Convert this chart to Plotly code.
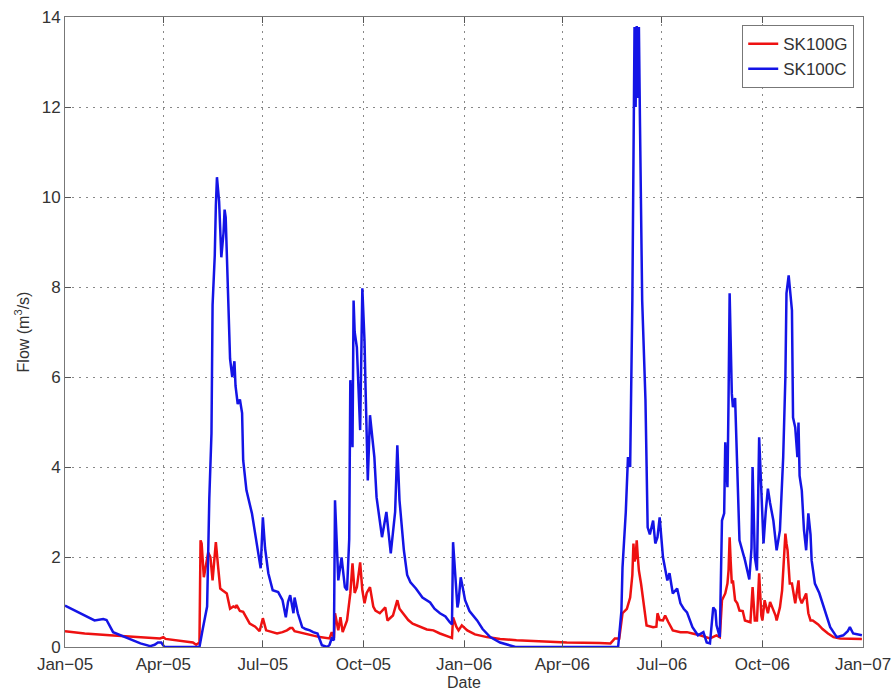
import pandas as pd
import plotly.graph_objects as go

# days since 2005-01-01
sk100c_days = [0, 14, 27, 35, 38, 44, 50, 57, 69, 78, 82, 85, 88, 91, 123, 126, 130, 132, 134, 135,
               137, 138, 139, 141, 143, 145, 146, 147, 149, 151, 153, 155, 156, 158, 160, 162, 163, 166, 171, 176,
               179, 181, 183, 186, 190, 195, 199, 202, 204, 206, 209, 210, 213, 217, 220, 224, 227, 231, 235, 240,
               242, 244, 246, 247, 249, 250, 253, 256, 258, 259, 260, 261, 263, 264, 265, 267, 268, 270, 272, 274,
               275, 276, 277, 279, 281, 283, 285, 287, 290, 294, 298, 302, 304, 306, 310, 313, 316, 321, 327, 334,
               338, 343, 348, 352, 354, 355, 357, 359, 360, 362, 364, 366, 370, 377, 382, 389, 398, 412, 506, 509,
               510, 513, 515, 517, 519, 520, 521, 522, 523, 524, 525, 526, 528, 531, 533, 535, 538, 540, 542, 544,
               547, 551, 553, 556, 560, 563, 566, 569, 574, 579, 584, 587, 590, 593, 595, 596, 599, 601, 603, 604,
               606, 607, 608, 610, 611, 613, 615, 616, 617, 622, 626, 628, 629, 631, 633, 635, 637, 639, 641, 643,
               645, 648, 651, 654, 657, 659, 660, 662, 663, 665, 666, 668, 670, 671, 672, 674, 676, 678, 680, 682,
               683, 686, 690, 693, 697, 700, 706, 712, 716, 718, 721, 725, 729]
sk100c_flow = [0.92, 0.75, 0.59, 0.62, 0.60, 0.33, 0.27, 0.20, 0.08, 0.02, 0.05, 0.10, 0.10, 0.0, 0.0, 0.40, 0.90, 3.3, 4.75, 7.6,
               8.7, 9.8, 10.44, 9.9, 8.66, 9.2, 9.72, 9.55, 8.0, 6.4, 6.0, 6.35, 5.8, 5.4, 5.5, 5.2, 4.15, 3.48, 2.97, 2.15,
               1.75, 2.88, 2.2, 1.64, 1.26, 1.22, 1.04, 0.66, 1.0, 1.15, 0.75, 1.1, 0.75, 0.44, 0.40, 0.37, 0.33, 0.30, 0.04, 0.0,
               0.05, 0.19, 0.15, 3.26, 2.0, 1.48, 1.99, 1.33, 1.26, 2.0, 2.4, 5.93, 4.44, 7.7, 7.0, 6.66, 5.93, 4.82, 7.97, 6.8,
               5.7, 4.37, 3.7, 5.15, 4.66, 4.22, 3.33, 3.0, 2.44, 3.0, 2.08, 3.0, 4.48, 3.26, 2.15, 1.6, 1.44, 1.3, 1.1, 0.99,
               0.85, 0.75, 0.68, 0.55, 0.50, 2.33, 1.6, 0.88, 1.0, 1.55, 1.3, 1.04, 0.80, 0.59, 0.40, 0.22, 0.10, 0.0, 0.0, 0.8,
               1.77, 3.0, 4.22, 4.0, 7.7, 11.5, 13.78, 12.0, 13.8, 12.2, 13.78, 11.6, 7.7, 5.5, 2.66, 2.5, 2.81, 2.3, 2.44, 2.88,
               2.0, 1.48, 1.64, 1.19, 1.3, 0.97, 0.85, 0.77, 0.44, 0.26, 0.33, 0.10, 0.08, 0.88, 0.81, 0.48, 0.22, 2.81, 2.97, 4.55,
               3.55, 5.5, 7.86, 5.63, 5.33, 5.53, 4.0, 3.04, 2.37, 1.93, 1.5, 2.2, 4.0, 2.0, 1.7, 4.66, 3.4, 2.3, 3.0, 3.52,
               3.2, 2.81, 2.15, 2.59, 4.22, 6.0, 7.86, 8.26, 8.0, 7.48, 5.1, 4.88, 4.22, 4.99, 3.8, 3.48, 2.6, 2.15, 2.97, 2.5,
               1.93, 1.41, 1.2, 0.97, 0.70, 0.44, 0.22, 0.26, 0.35, 0.44, 0.30, 0.28, 0.26]

sk100g_days = [0, 18, 41, 64, 87, 90, 92, 117, 120, 123, 124, 125, 127, 131, 133, 135, 138, 140, 142, 144,
               148, 151, 154, 156, 157, 160, 163, 169, 174, 178, 181, 184, 194, 199, 203, 206, 208, 210, 218, 224,
               233, 242, 244, 246, 247, 250, 252, 254, 258, 261, 263, 265, 267, 270, 272, 274, 276, 279, 282, 284,
               288, 293, 295, 300, 304, 306, 309, 314, 318, 325, 331, 337, 343, 352, 354, 355, 358, 360, 363, 368,
               375, 386, 398, 413, 435, 459, 489, 499, 503, 507, 510, 514, 517, 519, 520, 521, 522, 523, 524, 525,
               527, 529, 531, 532, 538, 541, 542, 544, 547, 549, 552, 556, 563, 569, 574, 581, 590, 596, 599, 601,
               604, 606, 607, 608, 609, 610, 611, 613, 615, 617, 620, 622, 627, 629, 631, 633, 635, 637, 638, 640,
               643, 645, 647, 650, 651, 654, 656, 659, 660, 661, 663, 665, 668, 671, 672, 674, 678, 680, 682, 684,
               689, 693, 698, 703, 709, 715, 723, 729]
sk100g_flow = [0.35, 0.30, 0.26, 0.22, 0.19, 0.22, 0.18, 0.10, 0.05, 0.10, 2.37, 2.3, 1.55, 2.1, 2.0, 1.48, 2.33, 1.8, 1.3, 1.26,
               1.19, 0.85, 0.90, 0.88, 0.93, 0.80, 0.78, 0.52, 0.45, 0.35, 0.64, 0.37, 0.30, 0.33, 0.37, 0.42, 0.42, 0.35, 0.30, 0.27,
               0.22, 0.19, 0.33, 0.20, 0.75, 0.37, 0.66, 0.33, 0.59, 1.19, 1.86, 1.2, 1.33, 1.88, 1.26, 0.97, 1.2, 1.33, 0.90, 0.81,
               0.75, 0.88, 0.59, 0.70, 1.04, 0.85, 0.75, 0.60, 0.52, 0.45, 0.39, 0.37, 0.30, 0.22, 0.20, 0.66, 0.45, 0.37, 0.48, 0.37,
               0.28, 0.22, 0.18, 0.15, 0.12, 0.10, 0.09, 0.08, 0.19, 0.19, 0.75, 0.85, 1.1, 1.6, 2.3, 1.9, 2.0, 2.37, 2.0, 1.7,
               1.4, 1.04, 0.59, 0.48, 0.44, 0.45, 0.75, 0.60, 0.59, 0.70, 0.55, 0.37, 0.33, 0.33, 0.30, 0.26, 0.19, 0.26, 0.22, 1.04,
               1.19, 1.41, 1.7, 2.44, 1.88, 1.41, 1.48, 1.04, 0.97, 0.81, 0.80, 0.59, 0.55, 1.33, 0.59, 0.59, 1.64, 0.70, 0.59, 1.04,
               0.75, 1.0, 0.88, 0.70, 0.59, 0.88, 1.26, 2.52, 2.3, 2.15, 1.41, 1.41, 0.97, 1.48, 1.1, 0.97, 1.19, 0.75, 0.59, 0.59,
               0.50, 0.40, 0.30, 0.22, 0.19, 0.19, 0.18, 0.18]

tick_dates = ["2005-01-01", "2005-04-01", "2005-07-01", "2005-10-01", "2006-01-01",
              "2006-04-01", "2006-07-01", "2006-10-01", "2007-01-01"]
tick_labels = ["Jan\u221205", "Apr\u221205", "Jul\u221205", "Oct\u221205", "Jan\u221206",
               "Apr\u221206", "Jul\u221206", "Oct\u221206", "Jan\u221207"]
y_ticks = [0, 2, 4, 6, 8, 10, 12, 14]

start = pd.Timestamp("2005-01-01")
g_dates = start + pd.to_timedelta(sk100g_days, unit="D")
c_dates = start + pd.to_timedelta(sk100c_days, unit="D")

fig = go.Figure()
fig.add_trace(go.Scatter(x=g_dates, y=sk100g_flow, mode="lines", name="SK100G",
                         line=dict(color="#ee1111", width=2.5)))
fig.add_trace(go.Scatter(x=c_dates, y=sk100c_flow, mode="lines", name="SK100C",
                         line=dict(color="#1414e6", width=2.5)))

font_family = "Liberation Sans, Arial, sans-serif"
fig.update_layout(
    width=894, height=690,
    margin=dict(l=65, r=31, t=17, b=43),
    paper_bgcolor="white", plot_bgcolor="white",
    font=dict(family=font_family, size=17, color="#333333"),
    showlegend=True,
    legend=dict(x=0.989, y=0.987, xanchor="right", yanchor="top",
                bgcolor="white", bordercolor="#777777", borderwidth=1,
                font=dict(size=17, color="#333333"), tracegroupgap=0),
    xaxis=dict(range=["2005-01-01", "2007-01-01"], tickvals=tick_dates, ticktext=tick_labels,
               automargin=False, ticklabelstandoff=2,
               showgrid=True, gridcolor="#888888", griddash="2px,5px", gridwidth=1,
               showline=True, linecolor="#777777", linewidth=1, mirror="ticks",
               ticks="inside", ticklen=6, tickcolor="#555555", zeroline=False),
    yaxis=dict(range=[0, 14], tickvals=y_ticks, automargin=False,
               showgrid=True, gridcolor="#888888", griddash="2px,5px", gridwidth=1,
               showline=True, linecolor="#777777", linewidth=1, mirror="ticks",
               ticks="inside", ticklen=6, tickcolor="#555555",
               title=dict(text="Flow (m<sup>3</sup>/s)", standoff=8, font=dict(size=16)), zeroline=False),
    annotations=[dict(text="Date", xref="paper", yref="paper", x=0.5, y=-0.0571,
                      xanchor="center", yanchor="middle", showarrow=False,
                      font=dict(size=16, color="#333333"))],
)

fig.write_html("out.html")
